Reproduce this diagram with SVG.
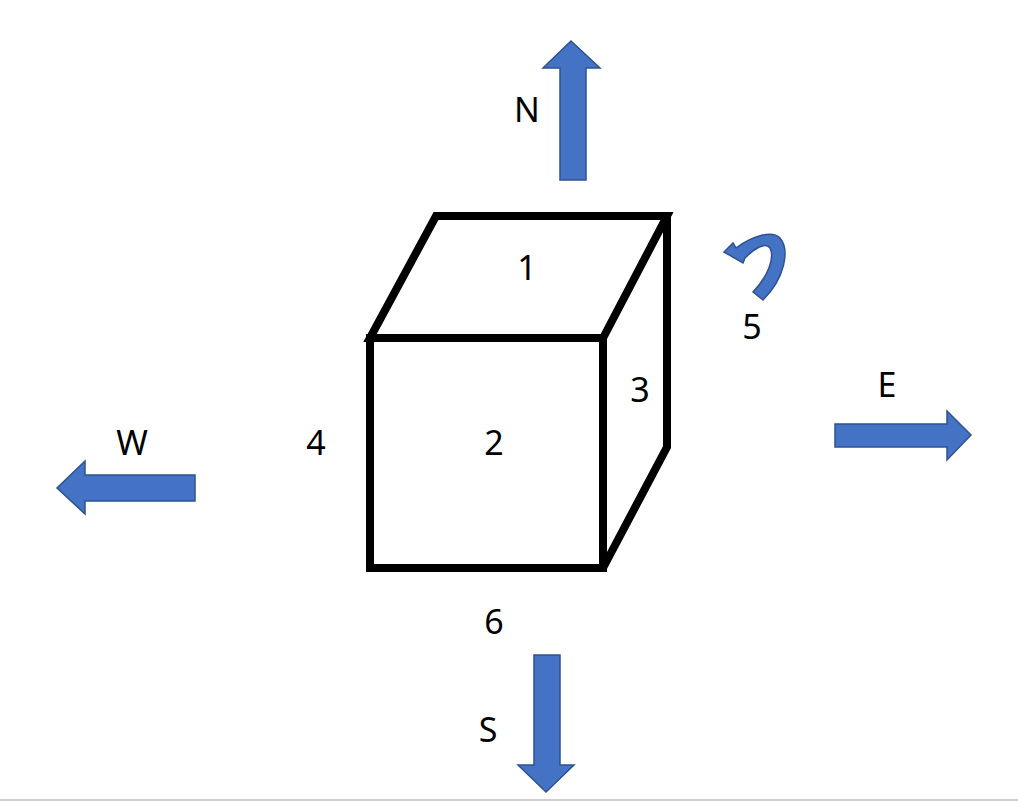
<svg xmlns="http://www.w3.org/2000/svg" width="1018" height="802" viewBox="0 0 1018 802">
<style>
.a{fill:#4472c4;stroke:#2f528f;stroke-width:1.5}
.c{fill:none;stroke:#000;stroke-width:8;stroke-linejoin:miter}
text{font-family:"Noto Sans","Liberation Sans",sans-serif;font-size:34px;fill:#000;text-anchor:middle}
</style>
<rect width="1018" height="802" fill="#fff"/>
<line x1="0" y1="800" x2="1018" y2="800" stroke="#d0d0d0" stroke-width="2"/>
<g id="cube">
<path class="c" d="M370 338 L436 216 L667 216 L603 338 Z"/>
<path class="c" d="M667 216 L667 447 L603 568"/>
<rect class="c" x="370" y="338" width="233" height="230"/>
</g>
<g id="connectors">
<path id="N" class="a" d="M560 180 L560 68 L543 68 L571 41 L600 68 L586 68 L586 180 Z"/>
<path id="S" class="a" d="M534 655 L534 765 L518 765 L546 792 L574 765 L560 765 L560 655 Z"/>
<path id="E" class="a" d="M835 424 L947 424 L947 411 L971 435 L947 460 L947 447 L835 447 Z"/>
<path id="W" class="a" d="M195 475 L85 475 L85 461 L57 488 L85 514 L85 501 L195 501 Z"/>
<path id="rot" class="a" d="M724 252 L733 243 L736 248 C752 236 772 230 780 238 C790 250 785 278 763 300 L753 292 C768 276 775 258 770 248 C765 242 755 248 745 258 L743 263 Z"/>
</g>
<g id="labels">
<text x="527" y="122">N</text>
<text x="527" y="280">1</text>
<text x="752" y="339">5</text>
<text x="640" y="402">3</text>
<text x="887" y="397">E</text>
<text x="132" y="455">W</text>
<text x="316" y="455">4</text>
<text x="494" y="455">2</text>
<text x="494" y="634">6</text>
<text x="488" y="742">S</text>
</g>
</svg>
